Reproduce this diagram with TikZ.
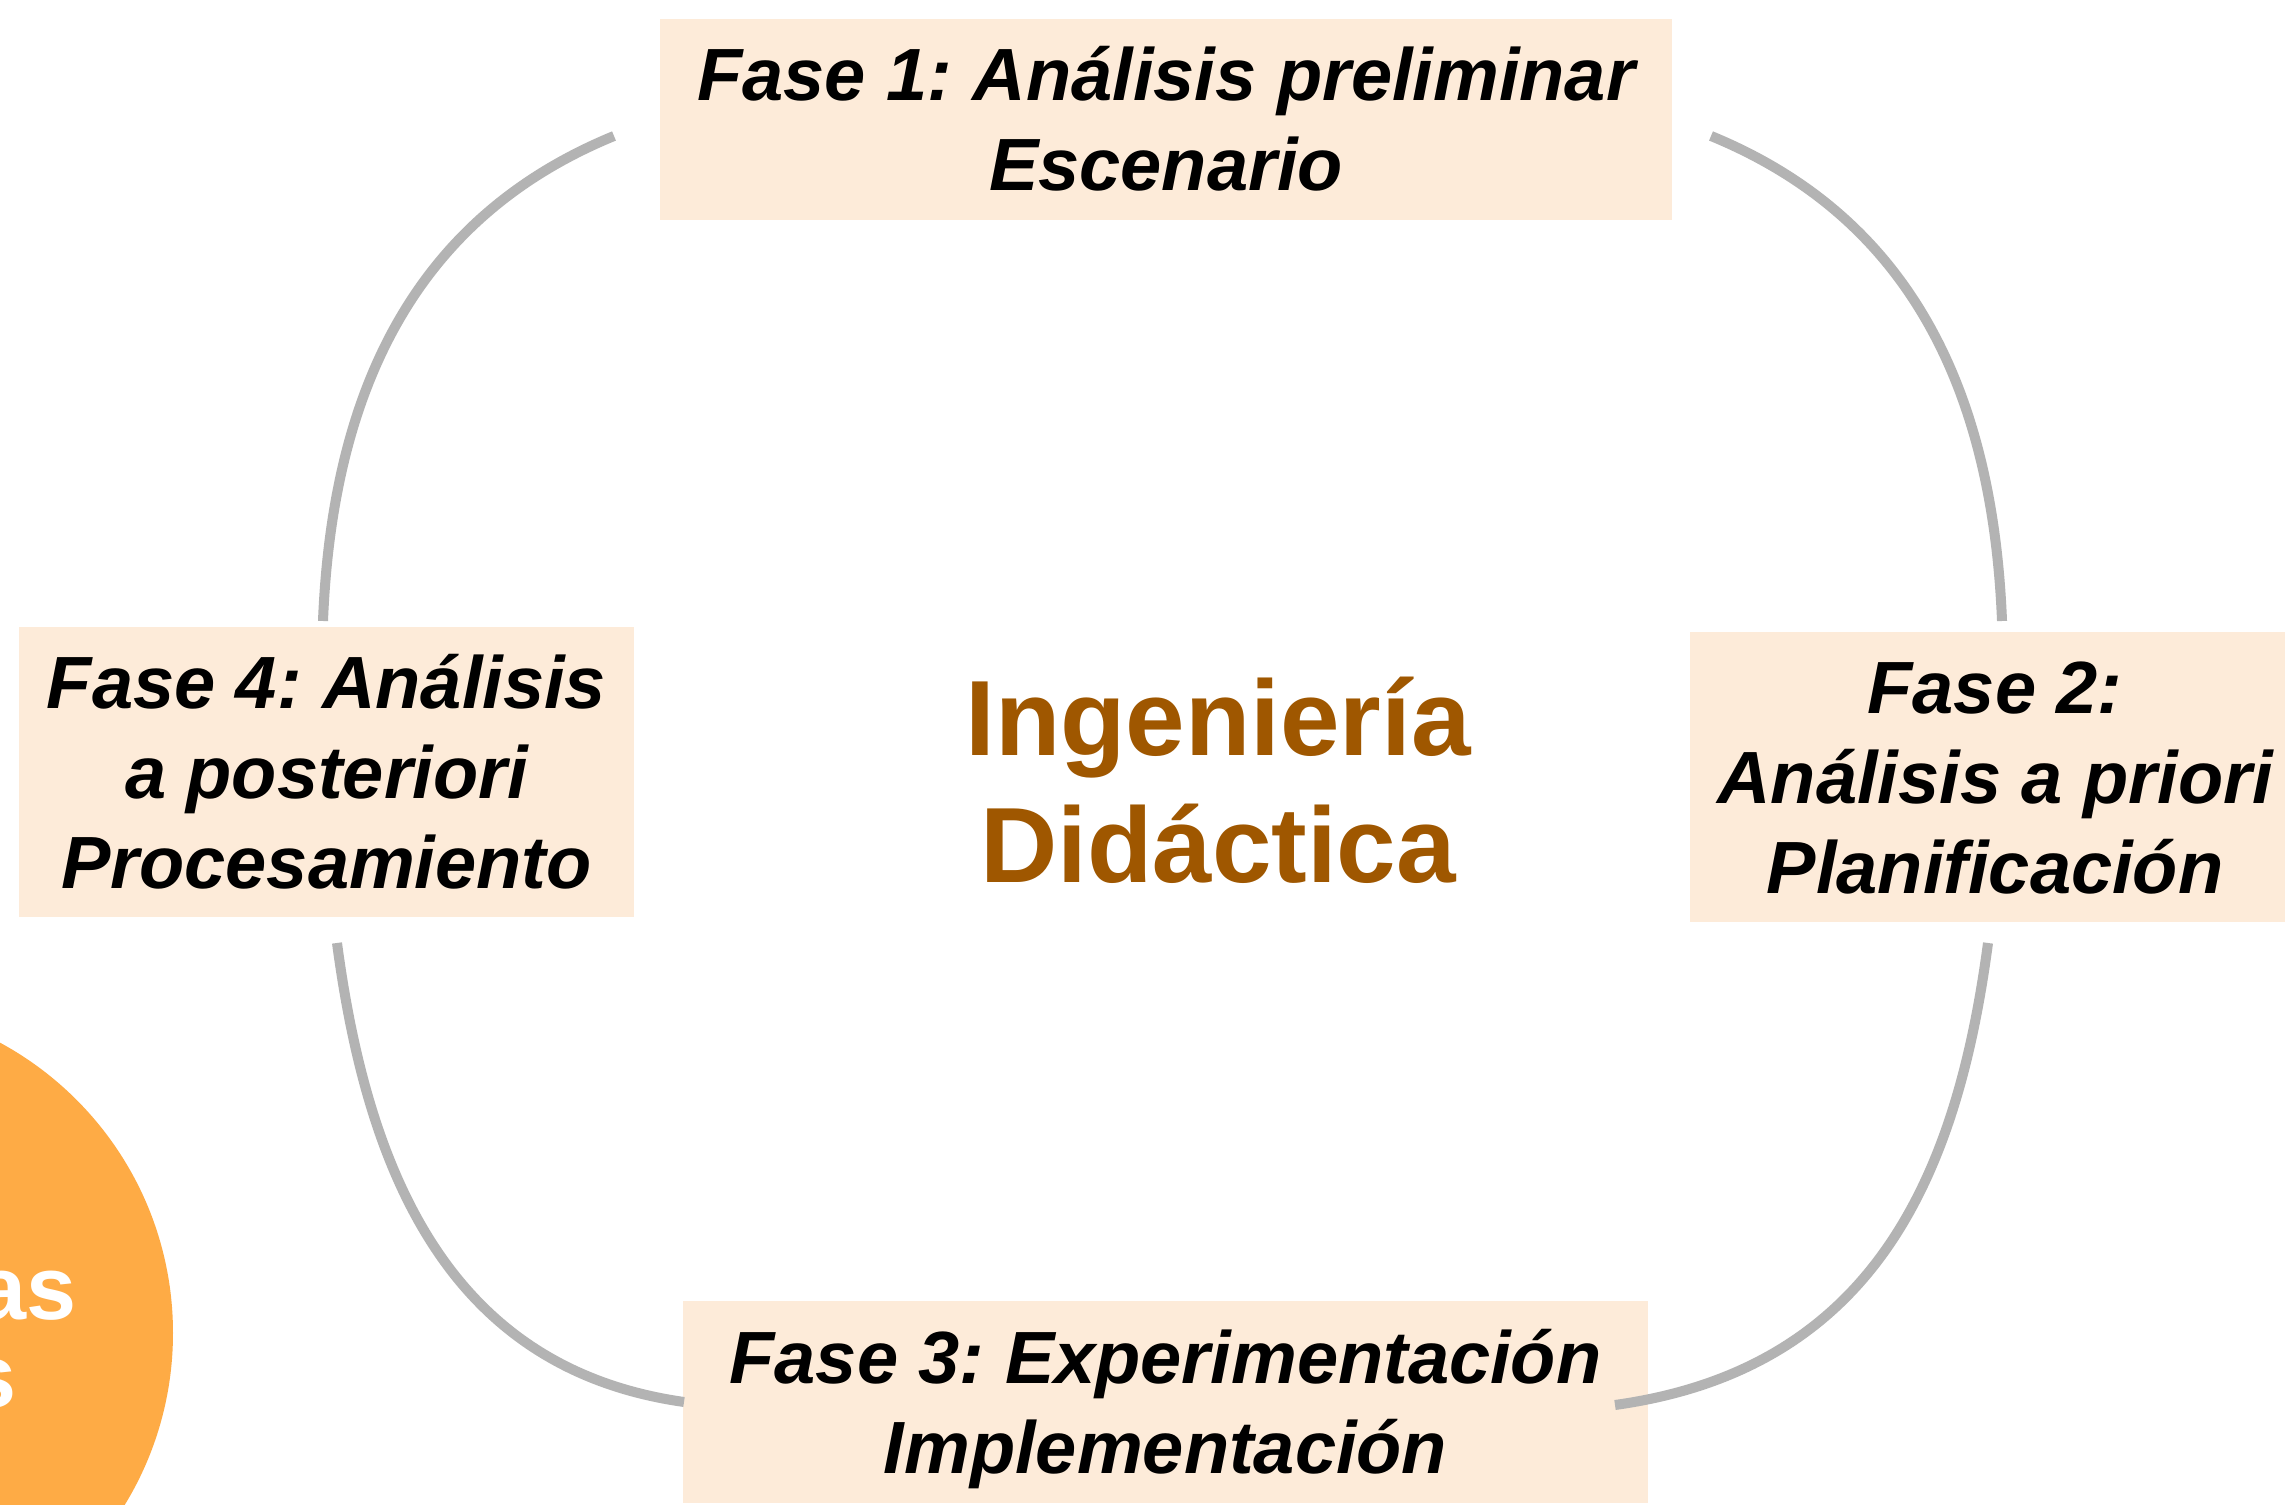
\documentclass[tikz,border=0pt]{standalone}
\usepackage{fontspec}
\setmainfont{Liberation Sans}
\frenchspacing
\definecolor{peach}{HTML}{FDEBD9}
\definecolor{arcgray}{HTML}{B3B3B3}
\definecolor{brownt}{HTML}{9F5700}
\definecolor{orangec}{HTML}{FEAB45}
\newcommand\stk[1]{\begin{tabular}[b]{@{}c@{}}#1\end{tabular}}
\begin{document}
\begin{tikzpicture}[x=1pt,y=1pt,
  phase/.style={fill=peach, inner sep=0pt, text depth=0pt,
    font=\fontsize{74}{90}\selectfont\bfseries\itshape},
  twoline/.style={text height=143pt},
  threeline/.style={text height=233pt},
  cyc/.style={draw=arcgray, line width=10pt},
]
\clip (0,0) rectangle (2285,1504);
\fill[white] (0,0) rectangle (2285,1504);

% orange circle at lower left
\node[circle, fill=orangec, minimum size=660pt, inner sep=0pt] (orb) at (-157,171) {};
\node[anchor=base east, inner sep=0pt, text=white,
  font=\fontsize{90}{90}\selectfont\bfseries] (orbA) at (77,184) {as};
\node[anchor=base east, inner sep=0pt, text=white,
  font=\fontsize{90}{90}\selectfont\bfseries] (orbB) at (17,96) {s};

% phase boxes
\node[phase, twoline, minimum width=1012pt, minimum height=201pt] (f1) at (1166,1384.5)
  {\stk{Fase 1: Análisis preliminar\\Escenario}};
\node[phase, threeline, minimum width=610pt, minimum height=290pt] (f2) at (1995,727)
  {\stk{Fase 2:\\Análisis a priori\\Planificación}};
\node[phase, twoline, minimum width=965pt, minimum height=202pt] (f3) at (1165.5,102)
  {\stk{Fase 3: Experimentación\\Implementación}};
\node[phase, threeline, minimum width=615pt, minimum height=290pt] (f4) at (326.5,732)
  {\stk{Fase 4: Análisis\\a posteriori\\Procesamiento}};

% centre title
\node[inner sep=0pt, text=brownt, text height=203.6pt, text depth=0pt,
  font=\fontsize{107}{127}\selectfont\bfseries] (title) at (1218,723.5)
  {\stk{Ingeniería\\Didáctica}};

% cycle arcs (ends next to the boxes)
\coordinate (f1w) at (614,1368);
\coordinate (f4n) at (323,883);
\coordinate (f1e) at (1711,1368);
\coordinate (f2n) at (2002,883);
\coordinate (f4s) at (337,561);
\coordinate (f3w) at (684,102);
\coordinate (f2s) at (1988,561);
\coordinate (f3e) at (1615,99);
\draw[cyc] (f1w) .. controls (429,1292) and (333,1133) .. (f4n);
\draw[cyc] (f1e) .. controls (1896,1292) and (1992,1133) .. (f2n);
\draw[cyc] (f4s) .. controls (368,328) and (451,135) .. (f3w);
\draw[cyc] (f2s) .. controls (1957,328) and (1874,135) .. (f3e);
\end{tikzpicture}
\end{document}
